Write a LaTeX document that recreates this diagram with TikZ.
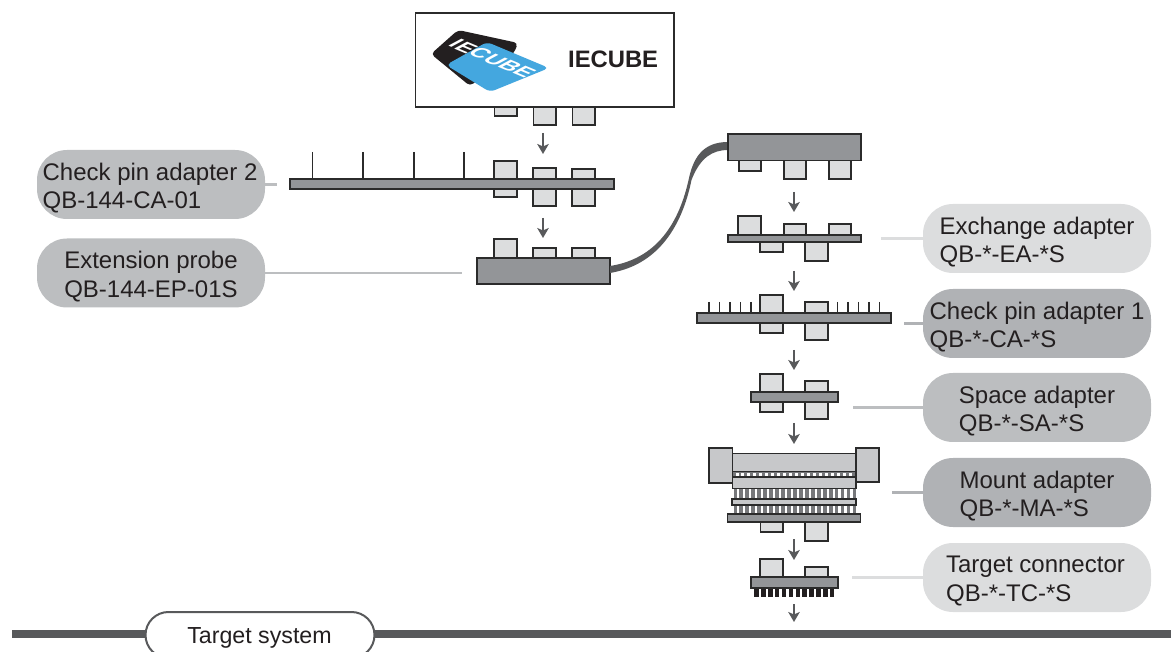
\documentclass[tikz,border=0pt]{standalone}
\usepackage{fontspec}
\setmainfont{Liberation Sans}
\usetikzlibrary{arrows.meta}
\definecolor{txt}{HTML}{231F20}
\definecolor{ink}{HTML}{2B2B2B}
\definecolor{steel}{HTML}{939598}
\definecolor{tabc}{HTML}{DCDDDE}
\definecolor{plate}{HTML}{C7C8CA}
\definecolor{dk}{HTML}{58595B}
\definecolor{stripe}{HTML}{77787B}
\definecolor{pa}{HTML}{BCBEC0}
\definecolor{pb}{HTML}{B0B2B5}
\definecolor{pc}{HTML}{DCDDDE}
\definecolor{cardblue}{HTML}{44A7DF}
\tikzset{
  x=1pt,y=-1pt,
  pill/.style={rounded corners=30pt,minimum width=228pt,minimum height=69pt,inner sep=0pt},
  pilltext/.style={inner sep=0pt,align=left,text=txt,yshift=-3.5pt,font=\fontsize{24}{28.5}\selectfont},
  tabpart/.style={draw=ink,fill=tabc,line width=1.4pt},
  barpart/.style={draw=ink,fill=steel,line width=1.4pt},
  platepart/.style={draw=ink,fill=plate,line width=1.4pt},
  pinpart/.style={draw=ink,line width=1.3pt},
  flow/.style={draw=dk,line width=1.8pt,-{Stealth[length=10pt,width=11.5pt,inset=2.5pt]}},
  leader/.style={line width=2.5pt},
}
\newcommand{\rb}[5]{\path[#1] (#2,#3) rectangle (#4,#5);}
\begin{document}
\begin{tikzpicture}
\useasboundingbox (0,0) rectangle (1171,652);
\clip (0,0) rectangle (1171,652);

% IECUBE box
\rb{tabpart}{494.5}{100}{517}{116}
\rb{tabpart}{533.5}{100}{556}{125}
\rb{tabpart}{572.5}{100}{595}{125}
\node[draw=ink,fill=white,line width=1.3pt,minimum width=258.5pt,minimum height=94pt,inner sep=0pt] (iecube) at (544.7,60) {};
\node[font=\fontsize{23.8}{28}\selectfont\bfseries,text=txt,anchor=base west,inner sep=0pt] (iecubetext) at (568,67.5) {IECUBE};
% logo
\fill[txt,rounded corners=4pt] (431,54) -- (458,30) -- (518,43) -- (514,53) -- (470,86) -- cycle;
\fill[cardblue,rounded corners=5pt] (446,65) -- (487,42) -- (549,68) -- (490,92) -- cycle;
\begin{scope}[shift={(492.5,58.5)}]
\begin{scope}[cm={1.52,-.64,1.4,.75,(0,0)}]
\node[white,inner sep=0pt,transform shape,font=\fontsize{13.5}{13.5}\selectfont\bfseries] (logo) at (0,0) {IECUBE};
\end{scope}
\end{scope}

% Check pin adapter 2
\foreach \x in {312.7,363,414,464} \draw[pinpart] (\x,152) -- (\x,179);
\rb{tabpart}{494}{161}{517}{197}
\rb{tabpart}{533}{168}{556}{206}
\rb{tabpart}{572}{169}{595}{206}
\rb{barpart}{290}{179}{614}{189}

% Extension probe
\rb{tabpart}{494}{239}{517}{262}
\rb{tabpart}{533}{248}{556}{262}
\rb{tabpart}{572}{248}{595}{262}
\node[barpart,minimum width=133pt,minimum height=26pt,inner sep=0pt] (ext) at (543.5,271) {};

% Cable
\fill[dk] (610,266) .. controls (662,258) and (681,215) .. (689,178) .. controls (694,155) and (705,142) .. (728,142)
  -- (728,150) .. controls (712,150) and (700,158) .. (691.5,180) .. controls (684,217) and (664,264) .. (610,273) -- cycle;

% Top right plug
\rb{tabpart}{739}{155}{761}{171}
\rb{tabpart}{784}{155}{806}{179}
\rb{tabpart}{829}{155}{851}{179}
\node[barpart,minimum width=133pt,minimum height=26.5pt,inner sep=0pt] (plug) at (794.5,147.3) {};

% Exchange adapter
\rb{tabpart}{738}{216}{761}{240}
\rb{tabpart}{784}{224}{806}{240}
\rb{tabpart}{829}{224}{851}{240}
\rb{tabpart}{760}{238}{783}{252}
\rb{tabpart}{805}{238}{828}{261}
\rb{barpart}{728}{235}{861}{242}

% Check pin adapter 1
\foreach \x in {709,719.7,730,740.7,751,837.7,848,858.7,869,879.7} \draw[pinpart] (\x,302) -- (\x,313);
\rb{tabpart}{760}{295}{783}{333}
\rb{tabpart}{805}{302}{828}{340}
\rb{barpart}{697}{313}{891}{323}

% Space adapter
\rb{tabpart}{760}{374}{783}{412}
\rb{tabpart}{805}{381}{828}{419}
\rb{barpart}{751}{392}{838}{402}

% Mount adapter
\rb{tabpart}{760.5}{518}{783}{532}
\rb{tabpart}{805}{518}{828}{541}
\fill[white] (733,471) rectangle (856,514);
\fill[stripe] (733,472) rectangle (856,477);
\foreach \i in {0,...,20} \fill[white] ({735.5+5.95*\i},473) rectangle ({738.5+5.95*\i},476);
\foreach \i in {0,...,20} \fill[stripe] ({733.5+5.95*\i},488) rectangle ({737.3+5.95*\i},499);
\foreach \i in {0,...,20} \fill[stripe] ({733.5+5.95*\i},505) rectangle ({737.3+5.95*\i},514);
\rb{platepart}{709}{448}{732.7}{483}
\rb{platepart}{856}{448}{879}{482}
\rb{platepart}{732.7}{453.7}{856}{471.5}
\rb{platepart}{732.7}{477}{856}{488.7}
\rb{platepart}{732}{499}{856}{505}
\rb{barpart}{727.7}{514}{860.7}{522}

% Target connector
\rb{tabpart}{760}{559}{783}{580}
\rb{tabpart}{805}{567}{828}{580}
\foreach \i in {0,...,11} \fill[txt] ({754.3+6.87*\i},588) rectangle ({758.8+6.87*\i},597);
\rb{barpart}{751}{577}{838}{588}

% Arrows
\foreach \n/\x/\a/\b in {a/543/133/154,b/543/218/238,c/794/192/212,d/794/271/291,e/794/350/370,f/794/423/444,g/794/539/560,h/794/604/622}{
  \coordinate (\n s) at (\x,\a);
  \coordinate (\n e) at (\x,\b);
  \draw[flow] (\n s) -- (\n e);
}

% Target system bar
\coordinate (busl) at (12,634);
\coordinate (busr) at (1171,634);
\draw[dk,line width=8pt] (busl) -- (busr);
\node[draw=dk,fill=white,line width=2pt,rounded corners=23pt,minimum width=229pt,minimum height=46pt,inner sep=0pt] (ts) at (260,635) {};
\node[pilltext,font=\fontsize{23.2}{28}\selectfont] (tst) at (259.5,634) {Target system};

% Pills
\node[pill,fill=pa] (p1) at (151,184.5) {};
\node[pill,fill=pa] (p2) at (151,273) {};
\node[pill,fill=pc] (p3) at (1037,238.5) {};
\node[pill,fill=pb] (p4) at (1037,323.5) {};
\node[pill,fill=pa] (p5) at (1037,407.5) {};
\node[pill,fill=pb] (p6) at (1037,492.5) {};
\node[pill,fill=pc] (p7) at (1037,577.5) {};
\node[pilltext] (t1) at (150,184.5) {Check pin adapter 2\\QB-144-CA-01};
\node[pilltext] (t2) at (p2) {Extension probe\\QB-144-EP-01S};
\node[pilltext] (t3) at (p3) {Exchange adapter\\QB-*-EA-*S};
\node[pilltext] (t4) at (1037,323.5) {Check pin adapter 1\\QB-*-CA-*S};
\node[pilltext] (t5) at (p5) {Space adapter\\QB-*-SA-*S};
\node[pilltext] (t6) at (p6) {Mount adapter\\QB-*-MA-*S};
\node[pilltext] (t7) at (1035.5,577.5) {Target connector\\QB-*-TC-*S};

% Leaders
\coordinate (l1) at (276.5,184.5);
\coordinate (l2) at (462,273);
\coordinate (l3) at (881,238.5);
\coordinate (l4) at (904,323.5);
\coordinate (l5) at (853,407.5);
\coordinate (l6) at (892,492.5);
\coordinate (l7) at (852,577.5);
\draw[leader,pa] (p1.east) -- (l1);
\draw[leader,pa] (p2.east) -- (l2);
\draw[leader,pc] (p3.west) -- (l3);
\draw[leader,pb] (p4.west) -- (l4);
\draw[leader,pa] (p5.west) -- (l5);
\draw[leader,pb] (p6.west) -- (l6);
\draw[leader,pc] (p7.west) -- (l7);
\end{tikzpicture}
\end{document}
